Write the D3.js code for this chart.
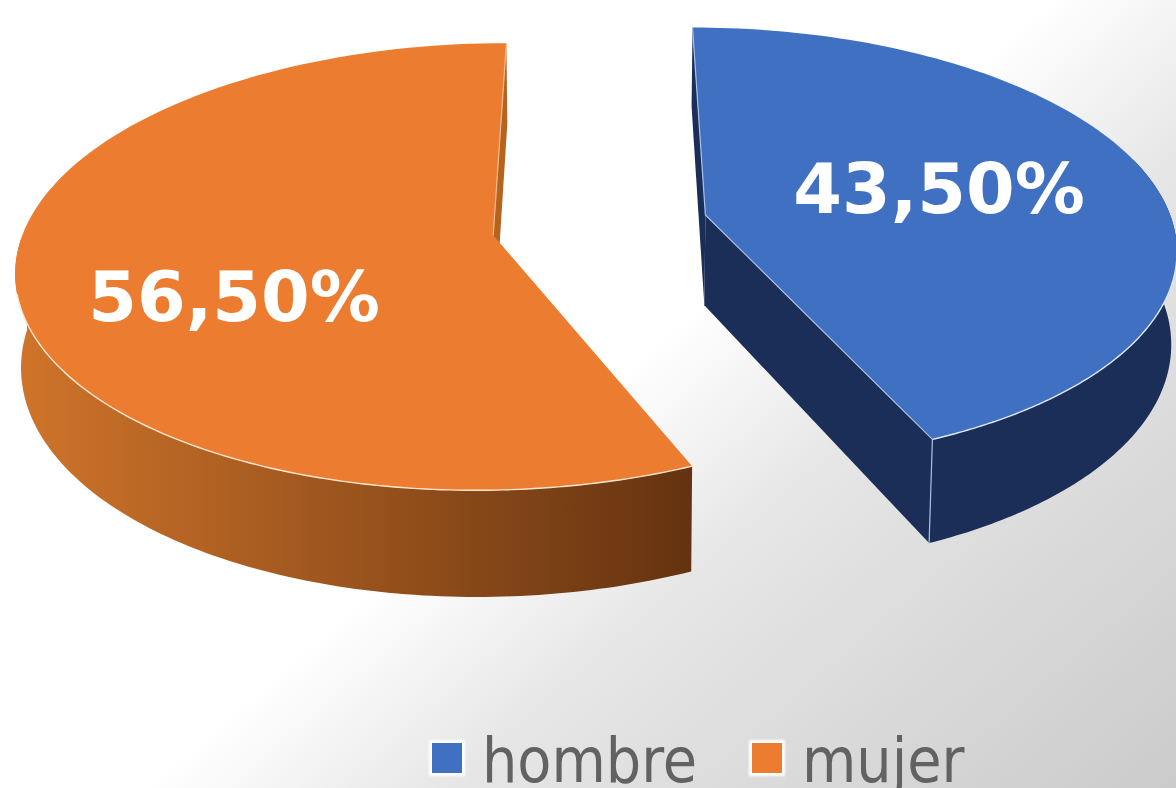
<!DOCTYPE html>
<html>
<head>
<meta charset="utf-8">
<script src="https://cdn.jsdelivr.net/npm/d3@7"></script>
<style>
    html, body { margin: 0; padding: 0; background: #fff; }
    svg { display: block; }
    text { font-family: "DejaVu Sans", sans-serif; }
</style>
</head>
<body>
<svg id="chart" width="1176" height="788"></svg>
<script>
// Data
const categories = ['hombre', 'mujer'];
const shares = [43.5, 56.5];
const shareLabels = ['43,50%', '56,50%'];

const width = 1176;
const height = 788;

const topColors = ['#4070c1', '#ec7d30'];
const wallColors = ['#1a2e58', '#b4641f'];

// Perspective of the disc, fitted to the corners of the slices
const vanishX = 600, vanishY = -1319;
const scaleX = 3340, scaleY = 11024;
const camera = 7.14;
const explode = 0.2316;
const depth = 650, shrink = 0.99;

const svg = d3.select('#chart');
const defs = svg.append('defs');

// Background
const bg = defs.append('linearGradient')
    .attr('id', 'bg')
    .attr('gradientUnits', 'userSpaceOnUse')
    .attr('x1', 525).attr('y1', 457)
    .attr('x2', 969).attr('y2', 968);
bg.append('stop').attr('offset', 0).attr('stop-color', '#ffffff');
bg.append('stop').attr('offset', 0.3).attr('stop-color', '#e6e6e6');
bg.append('stop').attr('offset', 1).attr('stop-color', '#cbcbcb');

svg.append('rect')
    .attr('width', width)
    .attr('height', height)
    .attr('fill', 'url(#bg)');

// Side shading of the orange slice
const side = defs.append('linearGradient')
    .attr('id', 'side-mujer')
    .attr('gradientUnits', 'userSpaceOnUse')
    .attr('x1', 20).attr('y1', 0)
    .attr('x2', 687).attr('y2', 0);
side.append('stop').attr('offset', 0).attr('stop-color', '#cf742a');
side.append('stop').attr('offset', 1).attr('stop-color', '#653310');

// Soft edge for the legend swatches
const glow = defs.append('filter').attr('id', 'soft');
glow.append('feGaussianBlur').attr('stdDeviation', 1);

const pie = d3.pie().sort(null);
const slices = pie(shares);
const line = d3.line();

// plane position of a rim point: r 0..1, a clockwise from the top
function project(slice, r, a, lower) {
    const mid = (slice.startAngle + slice.endAngle) / 2;
    const X = r * Math.sin(a) + explode * Math.sin(mid);
    const Y = r * Math.cos(a) + explode * Math.cos(mid);
    const d = camera + Y;
    const sx = X * scaleX / d;
    const sy = vanishY + scaleY / d;
    if (lower) return [vanishX + sx * shrink, sy + depth / d];
    return [vanishX + sx, sy];
}

function rim(slice, lower, from, to) {
    const angle = d3.scaleLinear().domain([0, 120]).range([from, to]);
    return d3.range(0, 121).map(k => project(slice, 1, angle(k), lower));
}

// Visible part of the outer wall and of its light edge, in radians
const wallRange = [[1.3, slices[0].endAngle], [slices[1].startAngle, 4.7]];
const edgeRange = [[1.72, slices[0].endAngle], [slices[1].startAngle, 4.45]];

slices.forEach((slice, i) => {
    const g = svg.append('g').attr('class', 'slice');
    const zero = i === 0 ? slice.startAngle : slice.endAngle;
    const near = i === 0 ? slice.endAngle : slice.startAngle;
    const apex = project(slice, 0, 0, false);
    const apexLow = project(slice, 0, 0, true);

    // Cut wall at angle 0, seen as a sliver beside the top face
    g.append('path')
        .attr('d', line([project(slice, 1, zero, false), apex, apexLow, project(slice, 1, zero, true)]) + 'Z')
        .attr('fill', wallColors[i]);

    // Cut wall facing the viewer, only the blue slice shows it
    if (i === 0) {
        g.append('path')
            .attr('d', line([apex, project(slice, 1, near, false), project(slice, 1, near, true), apexLow]) + 'Z')
            .attr('fill', wallColors[0]);
    }

    // Outer wall
    const wallTop = rim(slice, false, wallRange[i][0], wallRange[i][1]);
    const wallLow = rim(slice, true, wallRange[i][0], wallRange[i][1]);
    g.append('path')
        .attr('d', line(wallTop.concat(wallLow.reverse())) + 'Z')
        .attr('fill', i === 1 ? 'url(#side-mujer)' : wallColors[0]);

    // Top face
    g.append('path')
        .attr('d', line([apex].concat(rim(slice, false, slice.startAngle, slice.endAngle))) + 'Z')
        .attr('fill', topColors[i]);

    // Light edges
    g.append('path')
        .attr('d', line(rim(slice, false, edgeRange[i][0], edgeRange[i][1])))
        .attr('fill', 'none')
        .attr('stroke', i === 0 ? '#dfe7f5' : '#fde6d2')
        .attr('stroke-width', 1.4);
    const inner = [project(slice, 1, zero, false), apex];
    if (i === 0) inner.push(project(slice, 1, near, false), project(slice, 1, near, true));
    g.append('path')
        .attr('d', line(inner))
        .attr('fill', 'none')
        .attr('stroke', i === 0 ? '#a9bfe6' : '#f6b98c')
        .attr('stroke-width', 1.2);
});

// Value labels
const labelPos = [[939, 213], [234, 321]];
svg.selectAll('text.value')
    .data(shareLabels)
    .enter()
    .append('text')
    .attr('class', 'value')
    .attr('x', (d, i) => labelPos[i][0])
    .attr('y', (d, i) => labelPos[i][1])
    .attr('text-anchor', 'middle')
    .attr('fill', '#ffffff')
    .attr('font-weight', 'bold')
    .attr('font-size', '70px')
    .text(d => d);

// Legend
const legendX = [432, 752];
const legend = svg.selectAll('g.legend')
    .data(categories)
    .enter()
    .append('g')
    .attr('class', 'legend')
    .attr('transform', (d, i) => `translate(${legendX[i]},743)`);

legend.append('rect')
    .attr('x', -3).attr('y', -3)
    .attr('width', 36)
    .attr('height', 36)
    .attr('fill', '#ffffff')
    .attr('filter', 'url(#soft)');

legend.append('rect')
    .attr('width', 30)
    .attr('height', 30)
    .attr('fill', (d, i) => topColors[i]);

legend.append('text')
    .attr('x', 50)
    .attr('y', 39)
    .attr('fill', '#626262')
    .attr('font-size', '62px')
    .style('font-family', '"DejaVu Sans Condensed", "DejaVu Sans", sans-serif')
    .style('font-stretch', 'condensed')
    .text(d => d);
</script>
</body>
</html>
